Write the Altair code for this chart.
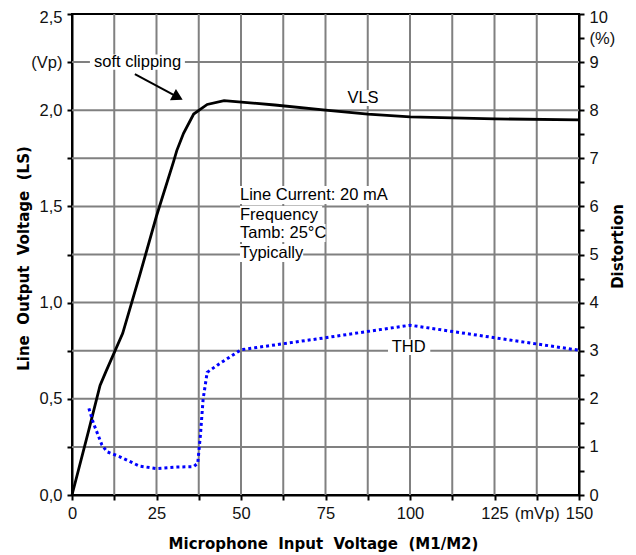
import altair as alt
import pandas as pd

# ---- data ----
vls_x = [0, 5, 8.3, 10, 15, 20, 25, 30, 31, 33, 36, 40, 45, 60, 75, 87.5, 100, 125, 150]
vls_v = [0, 0.34, 0.57, 0.64, 0.84, 1.14, 1.45, 1.73, 1.79, 1.88, 1.98, 2.03, 2.05, 2.027, 2.0, 1.98, 1.965, 1.955, 1.95]

thd_x = [5, 6.3, 8.8, 10.3, 14, 20, 25, 31, 36, 37.2, 38, 38.8, 40, 43, 50, 75, 100, 150]
thd_pct = [1.8, 1.5, 1.05, 0.9, 0.8, 0.6, 0.55, 0.58, 0.59, 0.66, 1.25, 2.0, 2.55, 2.7, 3.02, 3.27, 3.53, 3.01]

x_ticks = [i * 12.5 for i in range(13)]
y_ticks = [i * 0.25 for i in range(11)]
y2_ticks = [i * 0.5 for i in range(21)]
x_grid = x_ticks[1:-1]
y_grid = y_ticks[1:-1]

# annotations (data units)
info_lines = ["Line Current: 20 mA", "Frequency", "Tamb: 25\u00b0C", "Typically"]
info_x = [49.7, 49.7, 49.7, 49.7]
info_v = [1.559, 1.455, 1.362, 1.258]
info_x_end = [93.8, 74.0, 75.0, 68.4]

FONT = "Liberation Sans"
BOLD = "DejaVu Sans"
SP = "\u00a0\u00a0"

xscale = alt.Scale(domain=[0, 150], nice=False, zero=False)
yscale = alt.Scale(domain=[0, 2.5], nice=False, zero=False)
y2scale = alt.Scale(domain=[0, 10], nice=False, zero=False)

x_axis = alt.Axis(
    values=x_ticks, grid=False, labelOverlap=False, labelFlush=False, labelBound=False,
    labelExpr="datum.value == 137.5 ? '(mVp)' : (datum.value % 25 == 0 ? format(datum.value, 'd') : '')",
    title=SP.join(["Microphone", "Input", "Voltage", "(M1/M2)"]), titleX=251, titleY=48,
    titleAlign="center", titleBaseline="middle", titleAngle=0,
)
y_axis = alt.Axis(
    values=y_ticks, grid=False, labelOverlap=False, labelBound=False, labelFlush=False,
    labelOffset={"condition": {"test": "datum.value == 2.5", "value": 3}, "value": 0},
    labelExpr="datum.value == 2.25 ? '(Vp)' : (round(datum.value * 100) % 50 == 0 ? replace(format(datum.value, '.1f'), '.', ',') : '')",
    title=SP.join(["Line", "Output", "Voltage", "(LS)"]), titleAngle=270, titleX=-49, titleY=244,
    titleAlign="center", titleBaseline="middle",
)
y2_axis = alt.Axis(
    values=y2_ticks, grid=False, orient="right", labelOverlap=False, labelBound=False, labelFlush=False,
    labelOffset={"condition": {"test": "datum.value == 10", "value": 3}, "value": 0},
    labelExpr="datum.value == 9.5 ? '(%)' : (datum.value % 1 == 0 ? format(datum.value, 'd') : '')",
    title="Distortion", titleAngle=270, titleX=38, titleY=232,
    titleAlign="center", titleBaseline="middle",
)


def X(f):
    return alt.X(f, scale=xscale, axis=x_axis)


def Y(f):
    return alt.Y(f, scale=yscale, axis=y_axis)


def Y2(f):
    return alt.Y(f, scale=y2scale, axis=y2_axis)


vls_df = pd.DataFrame({"x": vls_x, "v": vls_v})
thd_df = pd.DataFrame({"x": thd_x, "d": thd_pct})

grid_x = alt.Chart(pd.DataFrame({"x": x_grid})).mark_rule(color="#808080", strokeWidth=2).encode(x=X("x:Q"))
grid_y = alt.Chart(pd.DataFrame({"v": y_grid})).mark_rule(color="#808080", strokeWidth=2).encode(y=Y("v:Q"))

# white boxes behind labels (V units)
box_v = pd.DataFrame({
    "x0": [5.3, 80.5] + info_x,
    "x1": [33.4, 92.0] + info_x_end,
    "v0": [2.21, 2.022] + [v - 0.047 for v in info_v],
    "v1": [2.29, 2.105] + [v + 0.047 for v in info_v],
})
boxes = alt.Chart(box_v).mark_rect(color="white").encode(
    x=X("x0:Q"), x2="x1", y=Y("v0:Q"), y2="v1"
)

vls_line = alt.Chart(vls_df).mark_line(color="black", strokeWidth=2.8).encode(
    x=X("x:Q"), y=Y("v:Q")
)

text_v = pd.DataFrame({
    "x": [19.4, 86.1],
    "v": [2.25, 2.063],
    "t": ["soft clipping", "VLS"],
})
labels_center = alt.Chart(text_v).mark_text(
    font=FONT, fontSize=16.5, color="black", align="center", baseline="middle"
).encode(x=X("x:Q"), y=Y("v:Q"), text="t:N")

info_df = pd.DataFrame({"x": info_x, "v": info_v, "t": info_lines})
info_text = alt.Chart(info_df).mark_text(
    font=FONT, fontSize=16.5, color="black", align="left", baseline="middle"
).encode(x=X("x:Q"), y=Y("v:Q"), text="t:N")

arrow_df = pd.DataFrame({"x": [18.6, 31.3], "v": [2.188, 2.068]})
arrow_line = alt.Chart(arrow_df).mark_line(color="black", strokeWidth=2).encode(
    x=X("x:Q"), y=Y("v:Q")
)
head_df = pd.DataFrame({"x": [31.3], "v": [2.068]})
arrow_head = alt.Chart(head_df).mark_point(
    shape="triangle-right", angle=28, filled=True, color="black", size=160, opacity=1
).encode(x=X("x:Q"), y=Y("v:Q"))

left = alt.layer(grid_x, grid_y, boxes, vls_line, labels_center, info_text, arrow_line, arrow_head)

# right-scale layers (% units)
thd_box = pd.DataFrame({"x0": [93.5], "x1": [106.0], "d0": [2.91], "d1": [3.24]})
thd_boxes = alt.Chart(thd_box).mark_rect(color="white").encode(
    x=X("x0:Q"), x2="x1", y=Y2("d0:Q"), y2="d1"
)
thd_line = alt.Chart(thd_df).mark_line(
    color="#0000ff", strokeWidth=3, strokeDash=[3, 3], strokeCap="butt"
).encode(x=X("x:Q"), y=Y2("d:Q"))
thd_lbl = alt.Chart(pd.DataFrame({"x": [99.6], "d": [3.08], "t": ["THD"]})).mark_text(
    font=FONT, fontSize=16.5, color="black", align="center", baseline="middle"
).encode(x=X("x:Q"), y=Y2("d:Q"), text="t:N")

right = alt.layer(thd_boxes, thd_line, thd_lbl)

chart = alt.layer(left, right).resolve_scale(y="independent").properties(
    width=507, height=481,
    autosize=alt.AutoSizeParams(type="none"),
    padding={"left": 64, "top": 6, "right": 48, "bottom": 58},
).configure_view(
    stroke="black", strokeWidth=2
).configure_axis(
    domainColor="black", domainWidth=2, tickColor="black", tickWidth=2, tickSize=5,
    labelFont=FONT, labelFontSize=16.5, labelColor="#111111", labelPadding=5,
    titleFont=BOLD, titleFontSize=15, titleFontWeight="bold", titleColor="black",
)

chart.save("out.html", embed_options={"renderer": "svg", "actions": False})
